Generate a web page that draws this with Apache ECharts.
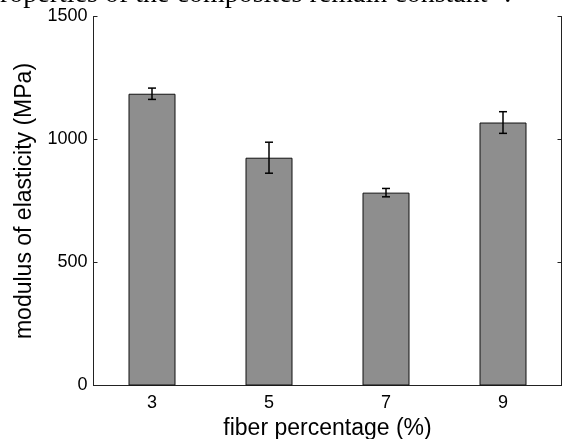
<!DOCTYPE html>
<html>
<head>
<meta charset="utf-8">
<script src="https://cdn.jsdelivr.net/npm/echarts@6/dist/echarts.min.js"></script>
<style>
  html, body { margin: 0; padding: 0; background: #fff; }
  #chart { width: 563px; height: 439px; }
</style>
</head>
<body>
<div id="chart"></div>
<script>
// fiber percentage (%) categories
const fiberPct = ['3', '5', '7', '9'];
// modulus of elasticity (MPa), bar heights
const modulus = [1186, 926, 784, 1069];
// +/- error
const modulusErr = [23, 63, 17, 44];
const yTicks = { min: 0, max: 1500, interval: 500 };

const errData = modulus.map((v, i) => [i, v - modulusErr[i], v + modulusErr[i]]);

const fontSans = 'Liberation Sans, Arial, Helvetica, sans-serif';

const dom = document.getElementById('chart');
const myChart = echarts.init(dom, null, { renderer: 'canvas' });

const option = {
  animation: false,
  backgroundColor: '#fff',
  graphic: [
    {
      // clipped line of the page text above the figure
      type: 'text',
      left: -14,
      top: -19,
      style: {
        text: 'properties of the composites remain constant \u2074.',
        font: '28px "Liberation Serif", "Times New Roman", serif',
        fill: '#000'
      }
    }
  ],
  grid: {
    left: 93.5,
    right: 1.5,
    top: 16.5,
    bottom: 53.5,
    containLabel: false,
    outerBoundsMode: 'none',
    show: false
  },
  xAxis: [
    {
      type: 'category',
      data: fiberPct,
      position: 'bottom',
      name: 'fiber percentage (%)',
      nameLocation: 'middle',
      nameGap: 27,
      nameTextStyle: { fontFamily: fontSans, fontSize: 23, color: '#000' },
      axisLine: { lineStyle: { color: '#222', width: 1 } },
      axisTick: { inside: true, alignWithLabel: true, length: 4, lineStyle: { color: '#222' } },
      axisLabel: { fontFamily: fontSans, fontSize: 18, color: '#000', margin: 9 },
      splitLine: { show: false }
    },
    {
      type: 'category',
      data: fiberPct,
      position: 'top',
      axisLine: { lineStyle: { color: '#222', width: 1 } },
      axisTick: { inside: true, alignWithLabel: true, length: 4, lineStyle: { color: '#222' } },
      axisLabel: { show: false },
      splitLine: { show: false }
    }
  ],
  yAxis: [
    {
      type: 'value',
      min: yTicks.min,
      max: yTicks.max,
      interval: yTicks.interval,
      position: 'left',
      name: 'modulus of elasticity (MPa)',
      nameLocation: 'middle',
      nameGap: 46,
      nameTextStyle: { fontFamily: fontSans, fontSize: 23, color: '#000' },
      axisLine: { show: true, lineStyle: { color: '#222', width: 1 } },
      axisTick: { show: true, inside: true, length: 4, lineStyle: { color: '#222' } },
      axisLabel: {
        fontFamily: fontSans,
        fontSize: 18,
        color: '#000',
        margin: 6,
        formatter: (v) => String(v)
      },
      splitLine: { show: false }
    },
    {
      type: 'value',
      min: yTicks.min,
      max: yTicks.max,
      interval: yTicks.interval,
      position: 'right',
      axisLine: { show: true, lineStyle: { color: '#222', width: 1 } },
      axisTick: { show: true, inside: true, length: 4, lineStyle: { color: '#222' } },
      axisLabel: { show: false },
      splitLine: { show: false }
    }
  ],
  series: [
    {
      name: 'modulus',
      type: 'bar',
      xAxisIndex: 0,
      yAxisIndex: 0,
      barWidth: 47,
      data: modulus,
      itemStyle: { color: '#8e8e8e', borderColor: '#111', borderWidth: 1 },
      z: 2
    },
    {
      name: 'error',
      type: 'custom',
      xAxisIndex: 0,
      yAxisIndex: 0,
      data: errData,
      z: 3,
      renderItem: (params, api) => {
        const x = api.value(0);
        const lo = api.coord([x, api.value(1)]);
        const hi = api.coord([x, api.value(2)]);
        const cap = 4;
        const style = { stroke: '#000', lineWidth: 1.5 };
        return {
          type: 'group',
          children: [
            { type: 'line', shape: { x1: lo[0], y1: lo[1], x2: hi[0], y2: hi[1] }, style },
            { type: 'line', shape: { x1: lo[0] - cap, y1: lo[1], x2: lo[0] + cap, y2: lo[1] }, style },
            { type: 'line', shape: { x1: hi[0] - cap, y1: hi[1], x2: hi[0] + cap, y2: hi[1] }, style }
          ]
        };
      }
    }
  ]
};

myChart.setOption(option);
window.addEventListener('resize', () => {
  myChart.resize();
});
</script>
</body>
</html>
